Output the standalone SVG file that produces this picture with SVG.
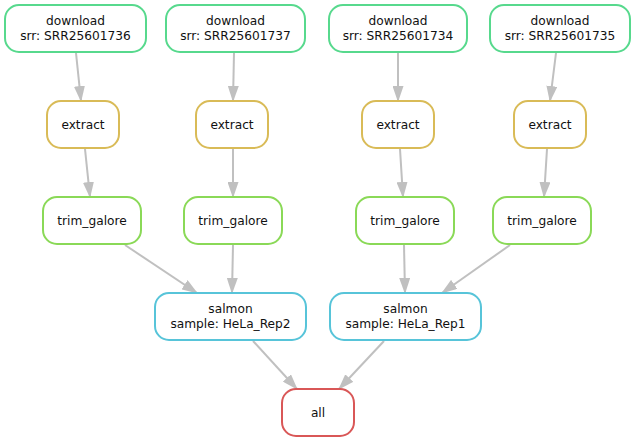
<svg xmlns="http://www.w3.org/2000/svg" width="633" height="443" viewBox="0 0 633 443">
<defs>
<marker id="ah" viewBox="0 0 16 11" refX="15" refY="5.5" markerWidth="8" markerHeight="5.5" markerUnits="strokeWidth" orient="auto">
<path d="M0,0 L16,5.5 L0,11 z" fill="#c0c0c0"/>
</marker>
<style>
.n rect{fill:#fff;stroke-width:2}
.dl rect{stroke:#57d98d}
.ex rect{stroke:#d9bb57}
.tg rect{stroke:#8ad957}
.sa rect{stroke:#57c4d9}
.al rect{stroke:#d95757}
text{font-family:"DejaVu Sans",sans-serif;font-size:12.2px;fill:#111;text-anchor:middle}
.e path{stroke:#c0c0c0;stroke-width:2;fill:none;marker-end:url(#ah)}
</style>
</defs>
<rect width="633" height="443" fill="#fff"/>
<g class="e" id="edges">
<path d="M76,53 L81,101"/>
<path d="M234,53 L233,101"/>
<path d="M398,53 L398,101"/>
<path d="M556,53 L550,101"/>
<path d="M85,149 L90,197"/>
<path d="M233,149 L233,197"/>
<path d="M400,149 L403,197"/>
<path d="M547,149 L544,197"/>
<path d="M125,245 L197,293"/>
<path d="M233,245 L232,293"/>
<path d="M404,245 L405,293"/>
<path d="M510,245 L442,293"/>
<path d="M253,341 L297,389"/>
<path d="M384,341 L339,389"/>
</g>
<g id="download1" class="n dl"><rect x="5" y="5" width="141" height="47" rx="14"/><text x="75.5" y="25">download</text><text x="75.5" y="40">srr: SRR25601736</text></g>
<g id="download2" class="n dl"><rect x="166" y="5" width="139" height="47" rx="14"/><text x="235.5" y="25">download</text><text x="235.5" y="40">srr: SRR25601737</text></g>
<g id="download3" class="n dl"><rect x="329" y="5" width="138" height="47" rx="14"/><text x="398" y="25">download</text><text x="398" y="40">srr: SRR25601734</text></g>
<g id="download4" class="n dl"><rect x="490" y="5" width="140" height="47" rx="14"/><text x="560" y="25">download</text><text x="560" y="40">srr: SRR25601735</text></g>
<g id="extract1" class="n ex"><rect x="47" y="101" width="72" height="47" rx="14"/><text x="83" y="129">extract</text></g>
<g id="extract2" class="n ex"><rect x="196" y="101" width="72" height="47" rx="14"/><text x="232" y="129">extract</text></g>
<g id="extract3" class="n ex"><rect x="362" y="101" width="72" height="47" rx="14"/><text x="398" y="129">extract</text></g>
<g id="extract4" class="n ex"><rect x="514" y="101" width="72" height="47" rx="14"/><text x="550" y="129">extract</text></g>
<g id="trim1" class="n tg"><rect x="43" y="197" width="98" height="47" rx="14"/><text x="92" y="225">trim_galore</text></g>
<g id="trim2" class="n tg"><rect x="184" y="197" width="98" height="47" rx="14"/><text x="233" y="225">trim_galore</text></g>
<g id="trim3" class="n tg"><rect x="356" y="197" width="98" height="47" rx="14"/><text x="405" y="225">trim_galore</text></g>
<g id="trim4" class="n tg"><rect x="493" y="197" width="98" height="47" rx="14"/><text x="542" y="225">trim_galore</text></g>
<g id="salmon2" class="n sa"><rect x="155" y="293" width="151" height="47" rx="14"/><text x="230.5" y="313">salmon</text><text x="230.5" y="328">sample: HeLa_Rep2</text></g>
<g id="salmon1" class="n sa"><rect x="330" y="293" width="151" height="47" rx="14"/><text x="405.5" y="313">salmon</text><text x="405.5" y="328">sample: HeLa_Rep1</text></g>
<g id="all" class="n al"><rect x="282" y="389" width="72" height="47" rx="14"/><text x="318" y="417">all</text></g>
</svg>
